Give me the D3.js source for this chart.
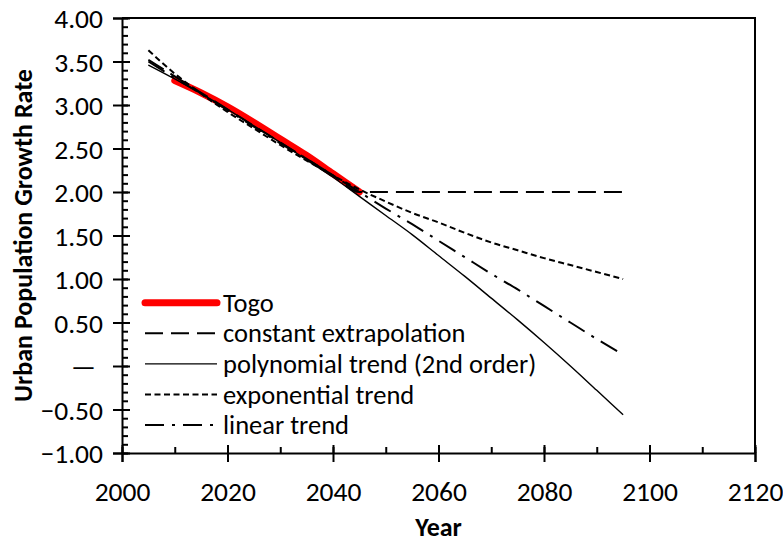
<!DOCTYPE html>
<html>
<head>
<meta charset="utf-8">
<script src="https://cdn.jsdelivr.net/npm/d3@7"></script>
<style>
  body { margin: 0; background: #fff; }
  text { font-family: Carlito, Calibri, Lato, sans-serif; fill: #000; }
</style>
</head>
<body>
<div id="chart"></div>
<script>
// values
const trendYears = [2005, 2010, 2015, 2020, 2025, 2030, 2035, 2040, 2045, 2050,
  2055, 2060, 2065, 2070, 2075, 2080, 2085, 2090, 2095];
const togoYears = [2010, 2015, 2020, 2025, 2030, 2035, 2040, 2045];
const togo = [3.28, 3.14, 2.98, 2.80, 2.61, 2.42, 2.21, 2.00];
const constantExtrapolation = [3.52, 3.33, 3.14, 2.95, 2.76, 2.57, 2.38, 2.19, 2.00, 2.00,
  2.00, 2.00, 2.00, 2.00, 2.00, 2.00, 2.00, 2.00, 2.00];
const polynomialTrend = [3.46, 3.30, 3.13, 2.95, 2.76, 2.57, 2.37, 2.17, 1.95, 1.73,
  1.51, 1.27, 1.03, 0.78, 0.53, 0.27, 0.00, -0.28, -0.56];
const exponentialTrend = [3.63, 3.36, 3.13, 2.92, 2.73, 2.54, 2.36, 2.19, 2.03, 1.89,
  1.76, 1.65, 1.53, 1.42, 1.33, 1.24, 1.16, 1.08, 1.00];
const linearTrend = [3.50, 3.31, 3.13, 2.94, 2.75, 2.56, 2.38, 2.19, 2.00, 1.81,
  1.63, 1.44, 1.25, 1.06, 0.88, 0.69, 0.50, 0.31, 0.13];
const xTicks = [2000, 2020, 2040, 2060, 2080, 2100, 2120];
const yTicks = [-1, -0.5, 0, 0.5, 1, 1.5, 2, 2.5, 3, 3.5, 4];
const seriesNames = ["Togo", "constant extrapolation", "polynomial trend (2nd order)",
  "exponential trend", "linear trend"];

const drawChart = () => {
  const width = 783;
  const height = 546;
  const margin = { top: 18, left: 122, bottom: 93, right: 28 };
  const iwidth = width - margin.left - margin.right;
  const iheight = height - margin.top - margin.bottom;

  const svg = d3
    .select("#chart")
    .append("svg")
    .attr("width", width)
    .attr("height", height);

  const x = d3.scaleLinear().domain([2000, 2120]).range([0, iwidth]);
  const y = d3.scaleLinear().domain([-1, 4]).range([iheight, 0]);

  const g = svg
    .append("g")
    .attr("transform", `translate(${margin.left},${margin.top})`);

  // frame (top + right)
  g.append("path")
    .attr("d", `M0,0H${iwidth}V${iheight}`)
    .attr("fill", "none")
    .attr("stroke", "#000")
    .attr("stroke-width", 2);

  // y axis: minor ticks inside, major ticks crossing
  g.append("g")
    .call(d3.axisRight(y).tickValues(d3.range(-1, 4.001, 0.1)).tickSize(6).tickFormat(""))
    .call((s) => s.select(".domain").remove());
  g.append("g")
    .call(d3.axisRight(y).tickValues(yTicks).tickSize(8).tickFormat(""))
    .call((s) => s.select(".domain").remove());
  const yAxis = g.append("g")
    .classed("y--axis", true)
    .call(d3.axisLeft(y).tickValues(yTicks).tickSize(9).tickPadding(10)
      .tickFormat((d) => (d === 0 ? "—" : d3.format(".2f")(d))));
  yAxis.selectAll("text").attr("font-size", 27.5).attr("dy", "0.36em");
  yAxis.selectAll(".tick").filter((d) => d === 0).select("text").attr("x", -26);

  // x axis
  g.append("g")
    .attr("transform", `translate(0, ${iheight})`)
    .call(d3.axisTop(x).tickValues(d3.range(2000, 2121, 10)).tickSize(6).tickFormat(""))
    .call((s) => s.select(".domain").remove());
  g.append("g")
    .attr("transform", `translate(0, ${iheight})`)
    .call(d3.axisTop(x).tickValues(xTicks).tickSize(8).tickFormat(""))
    .call((s) => s.select(".domain").remove());
  const xAxis = g.append("g")
    .classed("x--axis", true)
    .attr("transform", `translate(0, ${iheight})`)
    .call(d3.axisBottom(x).tickValues(xTicks).tickSize(9).tickPadding(19).tickFormat(d3.format("d")));
  xAxis.selectAll("text").attr("font-size", 27.5);

  g.selectAll(".tick line").attr("stroke-width", 2);
  g.selectAll(".domain").attr("stroke-width", 2);

  // series
  const series = [
    { name: seriesNames[0], xs: togoYears, ys: togo, color: "#ff0000", w: 7, dash: null },
    { name: seriesNames[1], xs: trendYears, ys: constantExtrapolation, color: "#000", w: 2, dash: "18,8" },
    { name: seriesNames[2], xs: trendYears, ys: polynomialTrend, color: "#000", w: 1.4, dash: null },
    { name: seriesNames[3], xs: trendYears, ys: exponentialTrend, color: "#000", w: 2, dash: "6,3.5" },
    { name: seriesNames[4], xs: trendYears, ys: linearTrend, color: "#000", w: 2, dash: "19,8,3,8" },
  ];

  const line = d3.line()
    .x((d) => x(d[0]))
    .y((d) => y(d[1]))
    .curve(d3.curveMonotoneX);

  g.selectAll("path.series")
    .data(series)
    .enter()
    .append("path")
    .attr("class", "series")
    .attr("fill", "none")
    .attr("stroke", (d) => d.color)
    .attr("stroke-width", (d) => d.w)
    .attr("stroke-linecap", (d) => (d.w > 5 ? "round" : "butt"))
    .attr("stroke-dasharray", (d) => d.dash)
    .attr("d", (d) => line(d3.zip(d.xs, d.ys)));

  // legend
  const legend = g.append("g").attr("transform", "translate(23, 284.7)");
  const rows = legend.selectAll("g").data(series).enter().append("g")
    .attr("transform", (d, i) => `translate(0, ${i * 30.6})`);
  rows.append("line")
    .attr("x1", 0)
    .attr("x2", 72)
    .attr("stroke", (d) => d.color)
    .attr("stroke-width", (d) => d.w)
    .attr("stroke-linecap", (d) => (d.w > 5 ? "round" : "butt"))
    .attr("stroke-dasharray", (d) => d.dash);
  rows.append("text")
    .attr("x", 78)
    .attr("dy", "0.34em")
    .attr("font-size", 26.5)
    .text((d) => d.name);

  // axis titles
  g.append("text")
    .attr("text-anchor", "middle")
    .attr("x", iwidth / 2)
    .attr("y", iheight + 83)
    .attr("font-size", 26)
    .attr("font-weight", "bold")
    .text("Year");

  g.append("text")
    .attr("text-anchor", "middle")
    .attr("transform", `translate(${32 - margin.left}, ${iheight / 2}) rotate(-90)`)
    .attr("font-size", 26)
    .attr("font-weight", "bold")
    .text("Urban Population Growth Rate");
};

drawChart();
</script>
</body>
</html>
